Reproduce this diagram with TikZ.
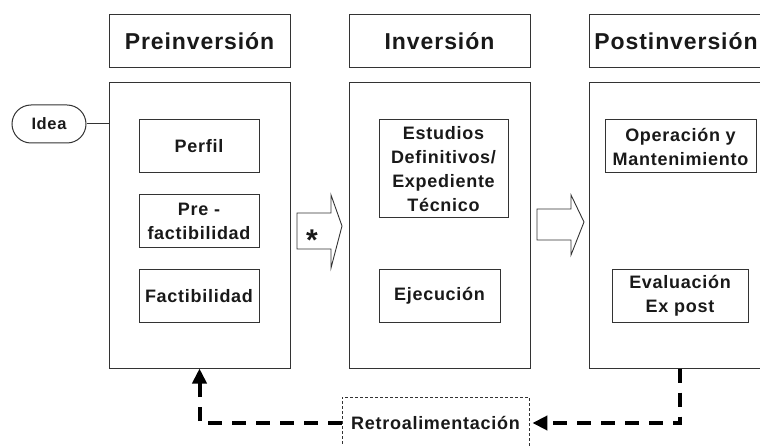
\documentclass[tikz,border=0pt]{standalone}
\usepackage{fontspec}
\setmainfont{Liberation Sans}[LetterSpace=4]
\usetikzlibrary{arrows.meta}
\newcommand\hdrfnt{\fontsize{23}{27}\selectfont\bfseries}
\newcommand\subfnt{\fontsize{18}{24}\selectfont\bfseries}
\newcommand\ideafnt{\fontsize{16.5}{19}\selectfont\bfseries}
\newcommand\starfnt{\fontsize{30}{30}\selectfont\bfseries}
\begin{document}
\begin{tikzpicture}[x=1pt,y=-1pt,
  frame/.style={draw=black!80, line width=1pt, inner sep=0pt, align=center, text=black!90},
  hdr/.style={frame, minimum width=181pt, minimum height=53pt, font=\hdrfnt},
  phase/.style={frame, minimum width=181pt, minimum height=285pt},
  sub/.style={frame, minimum height=53pt, font=\subfnt},
  fb/.style={line width=4pt, dash pattern=on 14pt off 10pt, draw=black},
  tipstyle/.style={-{Triangle[length=15pt,width=14pt]}},
  blockarrow/.style={draw=black!80, line width=0.9pt, fill=white, line join=miter}
]
\useasboundingbox (0,0) rectangle (760,446);
\clip (0,0) rectangle (760,446);

% phase headers and boxes
\node[hdr] (preh) at (199.5,41.5) {Preinversión};
\node[phase] (pre) at (199.5,225.5) {};
\node[hdr] (invh) at (439.5,41.5) {Inversión};
\node[phase] (inv) at (439.5,225.5) {};
\node[hdr, minimum width=182pt] (posth) at (680,41.5) {};
\node[font=\hdrfnt, text=black!90, inner sep=0pt] (postt) at (676,41.5) {Postinversión};
\node[phase, minimum width=182pt] (post) at (680,225.5) {};

% sub boxes
\node[sub, minimum width=120pt] (perfil) at (199,146.5) {Perfil};
\node[sub, minimum width=120pt] (prefac) at (199,221.5) {Pre -\\factibilidad};
\node[sub, minimum width=120pt, minimum height=52pt] (fact) at (199,296) {Factibilidad};
\node[sub, minimum width=129pt, minimum height=98pt] (estud) at (443.5,169) {Estudios\\Definitivos/\\Expediente\\Técnico};
\node[sub, minimum width=121pt, minimum height=52pt] (ejec) at (439.5,296) {Ejecución};
\node[sub, minimum width=151pt] (oper) at (680.5,146.5) {Operación y\\Mantenimiento};
\node[sub, minimum width=136pt, minimum height=52pt] (eval) at (680,296) {Evaluación\\Ex post};

% idea
\node[frame, rounded corners=19pt, minimum width=74pt, minimum height=38pt, font=\ideafnt] (idea) at (49,124) {Idea};
\draw[line width=1pt, draw=black!80] (idea.east) -- (idea.east -| pre.west);

% block arrows
\draw[blockarrow] (297,213) -- (331,213) -- (331,195) -- (342,226) -- (331,268) -- (331,249) -- (297,249) -- cycle;
\node[font=\starfnt, text=black!90, anchor=base, inner sep=0pt] (star) at (312,251) {*};
\draw[blockarrow] (537,209) -- (571,209) -- (571,195) -- (584,222) -- (571,255) -- (571,240) -- (537,240) -- cycle;

% feedback
\node[draw=black!80, line width=0.8pt, dash pattern=on 3pt off 2pt, minimum width=187pt, minimum height=52pt, font=\subfnt, text=black!90, inner sep=0pt] (retro) at (435.5,423) {Retroalimentación};
\draw[fb, tipstyle] (post.south) |- ([xshift=3pt]retro.east);
\draw[fb, tipstyle] (retro.west) -| (pre.south);
\end{tikzpicture}
\end{document}
